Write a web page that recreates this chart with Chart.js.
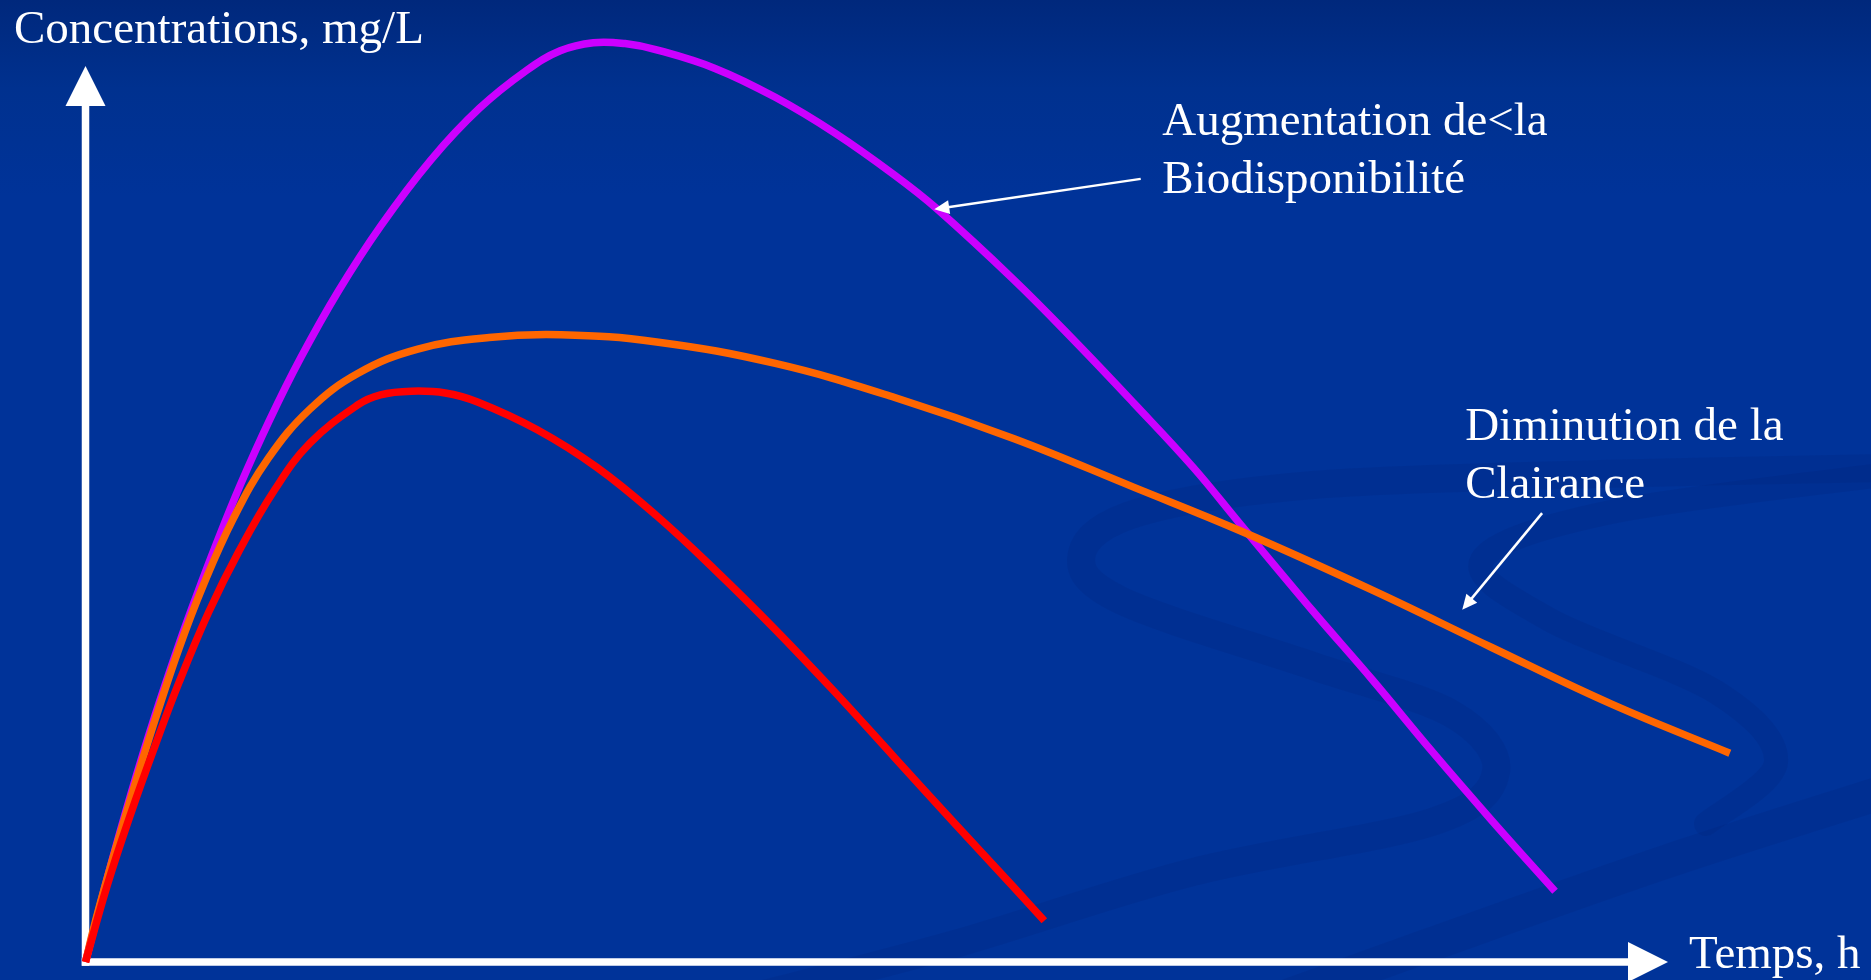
<!DOCTYPE html>
<html>
<head>
<meta charset="utf-8">
<title>Concentrations, mg/L</title>
<script src="https://cdn.jsdelivr.net/npm/chart.js@4.4.1/dist/chart.umd.min.js"></script>
<style>
  html, body { margin: 0; padding: 0; background: #003399; overflow: hidden; }
  #wrap { position: relative; width: 1871px; height: 980px; }
</style>
</head>
<body>
<div id="wrap"><canvas id="pk"></canvas></div>
<script>
// Concentration–time profiles (time in h, concentration in mg/L)

// Reference profile
const timeRef = [0, 0.30, 0.64, 0.97, 1.30, 1.71, 2.13, 2.63, 3.12, 3.79, 4.10, 4.53, 5.00, 5.45, 6.28, 7.11, 7.94, 8.76, 9.59, 10.42, 11.25, 12.08, 12.91, 13.33];
const concRef = [0, 0.85, 1.68, 2.42, 3.12, 3.90, 4.58, 5.27, 5.79, 6.22, 6.33, 6.37, 6.35, 6.25, 5.94, 5.52, 4.98, 4.37, 3.71, 3.01, 2.28, 1.55, 0.83, 0.46];

// Reduced clearance
const timeClear = [0, 0.14, 0.30, 0.47, 0.72, 0.97, 1.30, 1.63, 2.05, 2.54, 3.12, 3.79, 4.62, 5.61, 6.61, 7.94, 9.59, 11.25, 12.91, 14.57, 16.06, 17.89, 19.55, 21.21, 22.86];
const concClear = [0, 0.46, 0.93, 1.40, 2.07, 2.71, 3.50, 4.19, 4.94, 5.62, 6.17, 6.57, 6.84, 6.97, 7.00, 6.92, 6.68, 6.30, 5.84, 5.30, 4.81, 4.15, 3.51, 2.88, 2.33];

// Increased bioavailability
const timeBio = [0, 0.30, 0.64, 0.97, 1.30, 1.53, 1.81, 2.15, 2.56, 2.99, 3.51, 4.10, 4.80, 5.48, 6.13, 6.60, 7.06, 7.50, 7.94, 8.76, 9.59, 10.42, 11.25, 11.83, 12.91, 13.74, 14.57, 15.40, 16.06, 17.06, 17.89, 18.72, 19.55, 20.43];
const concBio = [0, 0.93, 1.90, 2.76, 3.55, 4.06, 4.65, 5.32, 6.05, 6.74, 7.48, 8.21, 8.95, 9.53, 9.95, 10.17, 10.26, 10.25, 10.18, 9.97, 9.65, 9.25, 8.78, 8.41, 7.61, 6.94, 6.24, 5.52, 4.88, 3.92, 3.15, 2.35, 1.58, 0.79];

// Axis extents (arrow tips) and texts
const axisEnd = { time: 22, conc: 10 };
const yAxisTitle = 'Concentrations, mg/L';
const xAxisTitle = 'Temps, h';

// Callouts: text lines, text anchor and arrow (tail -> head), in data units
const notes = [
  { lines: ['Augmentation de<la', 'Biodisponibilité'], text: [14.97, 9.23], tail: [14.67, 8.74], head: [11.80, 8.40] },
  { lines: ['Diminution de la', 'Clairance'], text: [19.18, 5.83], tail: [20.25, 5.01], head: [19.14, 3.93] }
];

const FONT = '47px "Liberation Serif", "DejaVu Serif", serif';
const LINE_GAP = 58;

function toPoints(xs, ys) { return xs.map((x, i) => ({ x: x, y: ys[i] })); }

// smooth path through a list of pixel points (Catmull-Rom)
function smoothPath(ctx, pts) {
  ctx.moveTo(pts[0][0], pts[0][1]);
  for (let i = 0; i < pts.length - 1; i++) {
    const p0 = pts[Math.max(i - 1, 0)], p1 = pts[i], p2 = pts[i + 1], p3 = pts[Math.min(i + 2, pts.length - 1)];
    ctx.bezierCurveTo(
      p1[0] + (p2[0] - p0[0]) / 6, p1[1] + (p2[1] - p0[1]) / 6,
      p2[0] - (p3[0] - p1[0]) / 6, p2[1] - (p3[1] - p1[1]) / 6,
      p2[0], p2[1]);
  }
}

const backdrop = {
  id: 'backdrop',
  beforeDraw(chart) {
    const { ctx, width, height } = chart;
    ctx.save();
    const g = ctx.createLinearGradient(0, 0, 0, height);
    g.addColorStop(0, '#00287c');
    g.addColorStop(0.09, '#00318f');
    g.addColorStop(0.2, '#003399');
    g.addColorStop(1, '#003399');
    ctx.fillStyle = g;
    ctx.fillRect(0, 0, width, height);

    // soft ribbon swirls of the slide background
    ctx.lineCap = 'round';
    ctx.lineJoin = 'round';
    const ribbons = [
      { w: 28, pts: [[1890, 468], [1600, 474], [1313, 485], [1140, 512], [1082, 553], [1120, 600], [1313, 666], [1452, 714], [1496, 772], [1432, 822], [1193, 872], [955, 944], [760, 995]] },
      { w: 24, pts: [[1890, 474], [1611, 512], [1482, 560], [1550, 620], [1716, 692], [1776, 762], [1706, 824]] },
      { w: 34, pts: [[1890, 790], [1671, 860], [1432, 944], [1290, 995]] }
    ];
    ctx.strokeStyle = 'rgba(0, 28, 110, 0.16)';
    for (const r of ribbons) {
      ctx.lineWidth = r.w;
      ctx.beginPath();
      smoothPath(ctx, r.pts);
      ctx.stroke();
    }
    ctx.restore();
  }
};

function arrowHead(ctx, fromX, fromY, toX, toY, len, half) {
  const a = Math.atan2(toY - fromY, toX - fromX);
  ctx.beginPath();
  ctx.moveTo(toX, toY);
  ctx.lineTo(toX - len * Math.cos(a) + half * Math.sin(a), toY - len * Math.sin(a) - half * Math.cos(a));
  ctx.lineTo(toX - len * Math.cos(a) - half * Math.sin(a), toY - len * Math.sin(a) + half * Math.cos(a));
  ctx.closePath();
  ctx.fill();
}

const axesArrows = {
  id: 'axesArrows',
  beforeDatasetsDraw(chart) {
    const { ctx, scales: { x, y } } = chart;
    const x0 = x.getPixelForValue(0), y0 = y.getPixelForValue(0);
    const xTip = x.getPixelForValue(axisEnd.time), yTip = y.getPixelForValue(axisEnd.conc);
    const head = 40, half = 20, w = 7.5;
    ctx.save();
    ctx.fillStyle = '#ffffff';
    // vertical axis
    ctx.fillRect(x0 - w / 2, yTip + head - 1, w, y0 + w / 2 - (yTip + head - 1));
    arrowHead(ctx, x0, y0, x0, yTip, head, half);
    // horizontal axis
    ctx.fillRect(x0 - w / 2, y0 - w / 2, xTip - head + 1 - (x0 - w / 2), w);
    arrowHead(ctx, x0, y0, xTip, y0, head, half);
    ctx.restore();
  },
  afterDatasetsDraw(chart) {
    const { ctx, scales: { x, y } } = chart;
    ctx.save();
    ctx.fillStyle = '#ffffff';
    ctx.strokeStyle = '#ffffff';
    ctx.font = FONT;
    ctx.textBaseline = 'alphabetic';
    ctx.textAlign = 'left';
    // axis titles
    ctx.fillText(yAxisTitle, 14, 43);
    ctx.fillText(xAxisTitle, x.getPixelForValue(axisEnd.time) + 21, y.getPixelForValue(0) + 6);
    // callouts
    for (const n of notes) {
      const tx = x.getPixelForValue(n.text[0]), ty = y.getPixelForValue(n.text[1]);
      n.lines.forEach((s, i) => ctx.fillText(s, tx, ty + i * LINE_GAP));
      const ax = x.getPixelForValue(n.tail[0]), ay = y.getPixelForValue(n.tail[1]);
      const bx = x.getPixelForValue(n.head[0]), by = y.getPixelForValue(n.head[1]);
      const a = Math.atan2(by - ay, bx - ax);
      ctx.lineWidth = 2.5;
      ctx.beginPath();
      ctx.moveTo(ax, ay);
      ctx.lineTo(bx - 12 * Math.cos(a), by - 12 * Math.sin(a));
      ctx.stroke();
      arrowHead(ctx, ax, ay, bx, by, 15, 7);
    }
    ctx.restore();
  }
};

const curve = (data, color) => ({
  data: data,
  borderColor: color,
  backgroundColor: color,
  borderWidth: 7.5,
  pointRadius: 0,
  fill: false,
  tension: 0.4,
  borderCapStyle: 'butt',
  clip: false
});

new Chart(document.getElementById('pk'), {
  type: 'line',
  data: {
    datasets: [
      curve(toPoints(timeRef, concRef), '#ff0000'),
      curve(toPoints(timeClear, concClear), '#ff6600'),
      curve(toPoints(timeBio, concBio), '#cc00ff')
    ]
  },
  options: {
    responsive: true,
    maintainAspectRatio: false,
    animation: false,
    events: [],
    layout: { padding: { left: 85.5, right: 131.1, top: 12.2, bottom: 18 } },
    scales: {
      x: { type: 'linear', min: 0, max: 23, display: false },
      y: { type: 'linear', min: 0, max: 10.6, display: false }
    },
    plugins: { legend: { display: false }, tooltip: { enabled: false }, title: { display: false } }
  },
  plugins: [backdrop, axesArrows]
});
</script>
</body>
</html>
